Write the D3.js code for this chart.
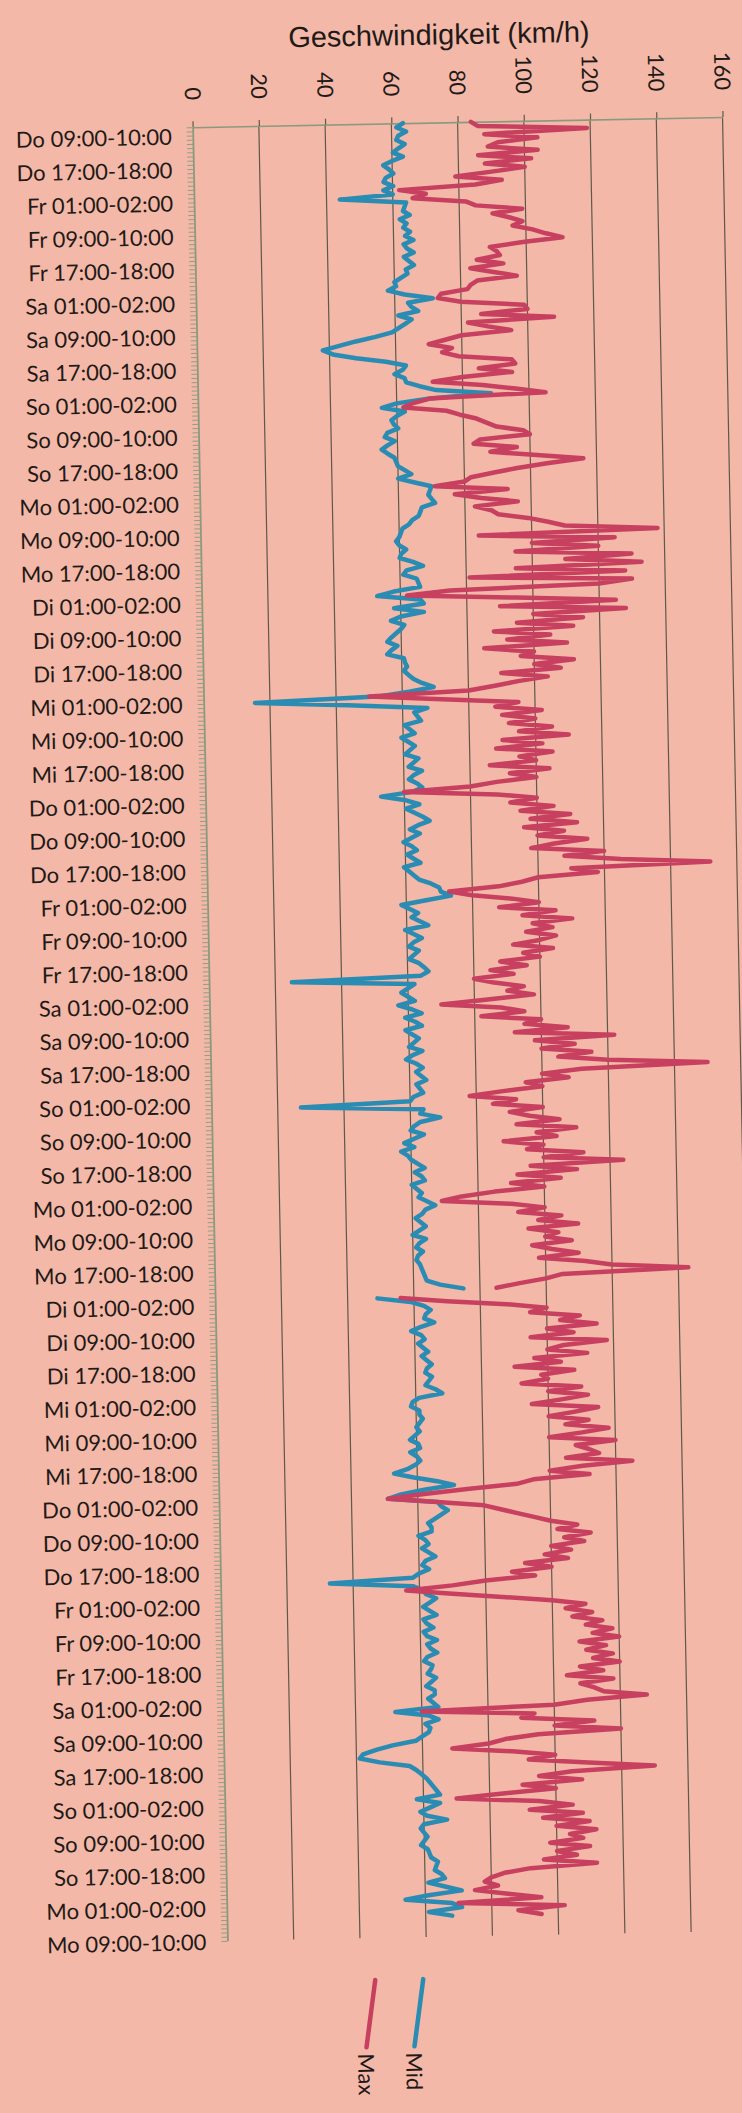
<!DOCTYPE html>
<html>
<head>
<meta charset="utf-8">
<script src="https://cdn.jsdelivr.net/npm/d3@7"></script>
<style>
html, body { margin: 0; padding: 0; background: #f3b8a8; }
svg { display: block; }
</style>
</head>
<body>
<div id="cont"></div>
<script>
// Data //

var tickLabels = [
  "Do 09:00-10:00", "Do 17:00-18:00", "Fr 01:00-02:00", "Fr 09:00-10:00", "Fr 17:00-18:00",
  "Sa 01:00-02:00", "Sa 09:00-10:00", "Sa 17:00-18:00", "So 01:00-02:00", "So 09:00-10:00",
  "So 17:00-18:00", "Mo 01:00-02:00", "Mo 09:00-10:00", "Mo 17:00-18:00", "Di 01:00-02:00",
  "Di 09:00-10:00", "Di 17:00-18:00", "Mi 01:00-02:00", "Mi 09:00-10:00", "Mi 17:00-18:00",
  "Do 01:00-02:00", "Do 09:00-10:00", "Do 17:00-18:00", "Fr 01:00-02:00", "Fr 09:00-10:00",
  "Fr 17:00-18:00", "Sa 01:00-02:00", "Sa 09:00-10:00", "Sa 17:00-18:00", "So 01:00-02:00",
  "So 09:00-10:00", "So 17:00-18:00", "Mo 01:00-02:00", "Mo 09:00-10:00", "Mo 17:00-18:00",
  "Di 01:00-02:00", "Di 09:00-10:00", "Di 17:00-18:00", "Mi 01:00-02:00", "Mi 09:00-10:00",
  "Mi 17:00-18:00", "Do 01:00-02:00", "Do 09:00-10:00", "Do 17:00-18:00", "Fr 01:00-02:00",
  "Fr 09:00-10:00", "Fr 17:00-18:00", "Sa 01:00-02:00", "Sa 09:00-10:00", "Sa 17:00-18:00",
  "So 01:00-02:00", "So 09:00-10:00", "So 17:00-18:00", "Mo 01:00-02:00", "Mo 09:00-10:00"
];
var labelEvery = 8;      // one label every 8 hourly slots
var labelShift = 2.3;    // first label sits a bit below the first slot
var slotCount = 434;

var speedTicks = [0, 20, 40, 60, 80, 100, 120, 140, 160];

// hourly Mid speed (km/h)
var mid = [
  63.5, 61.5, 64.4, 62, 61.4, 63.9, 62, 60.3,
  63.3, 60, 57.3, 59, 60.3, 58, 57.3, 60.2,
  57.2, 60, 44, 64, 63.5, 63, 65, 62,
  64, 63, 65, 63.5, 66, 63, 64, 66,
  63, 64.5, 66, 63.5, 64, 62, 60, 60.5,
  58, 63, 71.5, 64, 65, 67, 61, 65,
  63, 61, 59, 54, 48, 43, 38, 41,
  48, 57, 63, 62, 59.5, 62.5, 63, 67,
  72, 88.5, 70, 60, 55.5, 62.4, 60, 58.3,
  59, 60.3, 57, 56.2, 59.2, 57, 55.2, 57,
  59, 59.5, 60, 62, 64, 60, 65, 70,
  69.5, 69, 70, 71, 67, 66.5, 66, 64,
  63, 61, 60.5, 60, 59, 60, 62, 60.5,
  60, 64, 67, 62, 61, 65, 65.5, 66,
  58, 53, 66, 67, 58, 67, 60, 57,
  61, 60, 58.5, 57, 55.8, 58.8, 57, 55.7,
  60.7, 61, 61.6, 60.6, 62, 63.5, 66, 69.5,
  62.5, 53.5, 15.5, 43.5, 67.5, 63.5, 64.5, 65.5,
  60.5, 62, 63.5, 59.5, 61.5, 63.5, 62, 60.5,
  64.5, 63, 61.5, 65.5, 63, 61.5, 64, 65.5,
  62.5, 53, 60.5, 64.5, 60.5, 63, 65.5, 67.5,
  64, 61.5, 64.5, 62, 59.5, 62, 63.5, 60.5,
  62.5, 64.5, 59.5, 61, 62.5, 64, 67.5, 70,
  70.5, 73.5, 66, 58.5, 61, 63.5, 61.5, 64,
  66.5, 59.5, 62, 64.5, 62, 60.5, 63.5, 62,
  60.5, 63.5, 65, 66.3, 64, 25, 62, 60,
  58, 60, 62, 57, 61, 64, 59, 62,
  64, 59, 61, 63, 61.5, 60, 64, 61,
  59, 62, 64, 62, 63.5, 65, 62, 63,
  64, 61, 60, 27, 64, 63, 69, 63,
  61, 60, 64, 61, 58, 61, 57, 59,
  60, 62, 64, 61, 63, 64, 60, 61.5,
  63, 62, 64.5, 67, 64, 63, 61, 62.5,
  64, 62, 60, 64, 62, 61, 63, 61.5,
  61, 62, 62.5, 63, 63.5, 64, 68, 75,
  null, 49, 59, 63, 65, 63.5, 63, 66,
  62, 59, 62, 63, 61, 62.5, 64, 62,
  63.5, 65, 63.5, 63, 65, 64, 63, 66,
  68, 61, 59, 58.5, 61, 61, 62, 61,
  60, 61, 59.5, 58, 60.5, 61, 58, 60,
  61, 59.5, 57, 53, 59, 66, 71, 62,
  55, 51, 66, 67, 69, 67, 65, 63,
  64, 64, 60, 62, 63, 61, 63, 65,
  62, 61, 63, 60, 58, 33, 58, 61,
  62, 65, 63, 61, 63, 65, 61, 62,
  64, 61, 62, 65, 62, 63, 65, 62,
  61, 63.5, 63, 62, 64.5, 63, 61.5, 64,
  64, 62, 63.5, 65, 52, 62, 65, 61,
  62.5, 62, 60, 58, 51, 46, 42, 41,
  47, 56, 58, 59.5, 61, 62, 63, 64,
  65, 58, 65, 62, 59, 61, 67, 60,
  59, 60, 61, 60, 59, 61, 61.5, 62,
  64, 63.5, 63, 65, 66, 61, 66, 71,
  61, 54, 68, 71, 61, 68
];

// hourly Max speed (km/h)
var max = [
  84, 86, 119, 88, 104, 92, 89, 104,
  86, 102, 88, 100, 90, 79, 93, 85,
  62, 70, 66, 82, 85, 99, 90, 95,
  99, 96, 102, 106, 111, 99, 89, 91,
  92, 85, 93, 83, 90, 97, 85, 83,
  82, 74, 73, 80, 99, 100, 86, 108,
  82, 88, 95, 80, 75, 70, 77, 74,
  79, 95, 96, 85, 95, 80, 71, 86,
  96, 105, 70, 65, 62, 75, 79, 84,
  87, 90, 98, 100, 85, 83, 96, 88,
  102, 116, 105, 96, 89, 82, 80, 71,
  93, 77, 85, 96, 83, 88, 90, 99,
  105, 110, 138, 84, 125, 100, 120, 95,
  130, 110, 133, 95, 128, 81, 130, 120,
  75, 62, 95, 125, 90, 128, 100, 115,
  95, 112, 88, 105, 92, 110, 85, 100,
  96, 112, 100, 108, 90, 104, 95, 88,
  80, 50, 72, 95, 88, 102, 90, 100,
  92, 105, 95, 110, 90, 102, 88, 105,
  95, 100, 86, 104, 92, 100, 88, 80,
  60, 88, 100, 92, 105, 95, 110, 98,
  112, 96, 108, 100, 115, 105, 98, 120,
  108, 125, 152, 110, 118, 100, 95, 88,
  73, 80, 92, 100, 88, 105, 95, 110,
  98, 104, 96, 105, 100, 92, 104, 95,
  100, 88, 96, 85, 92, 80, 86, 95,
  90, 98, 84, 70, 88, 95, 82, 100,
  95, 108, 92, 122, 98, 110, 100, 115,
  105, 120, 150, 112, 100, 108, 95, 100,
  88, 78, 92, 85, 100, 90, 96, 105,
  92, 110, 98, 104, 88, 100, 95, 112,
  100, 124, 96, 110, 92, 105, 90, 100,
  85, 75, 69, 90, 100, 92, 105, 98,
  110, 95, 104, 100, 108, 96, 102, 110,
  98, 112, 120, 143, 105, 100, 92, 85,
  null, 56, 70, 88, 100, 95, 110, 104,
  115, 100, 108, 95, 118, 105, 100, 112,
  96, 104, 90, 108, 98, 100, 92, 110,
  100, 112, 104, 95, 115, 108, 100, 112,
  105, 118, 110, 100, 120, 108, 112, 115,
  105, 125, 110, 100, 112, 95, 90, 75,
  62, 51, 66, 80, 85, 90, 95, 100,
  108, 102, 112, 104, 110, 100, 106, 98,
  105, 92, 100, 88, 95, 80, 70, 56,
  70, 85, 100, 110, 104, 112, 106, 115,
  110, 118, 112, 120, 108, 116, 110, 118,
  112, 120, 108, 115, 104, 118, 108, 112,
  115, 128, 110, 100, 60, 94, 90, 112,
  100, 120, 95, 85, 80, 69, 88, 100,
  92, 110, 130, 105, 95, 108, 90, 100,
  84, 70, 95, 105, 92, 108, 96, 110,
  100, 112, 104, 108, 98, 110, 100, 106,
  96, 112, 92, 84, 80, 78, 82, 75,
  85, 95, 70, 102, 88, 95
];

var seriesNames = ["Max", "Mid"];

// Styles //

var bg = "#f3b8a8";
var gridCol = "#5e594a";
var axisCol = "#8b9a7e";
var textCol = "#1f1a17";
var maxCol = "#c7405f";
var midCol = "#2a8cb3";
var labelFont = "Lato, 'Open Sans', sans-serif";

// SVG Stuff //

var svg = d3.select("#cont").append("svg").attr("width", 742).attr("height", 2113);
svg.append("rect").attr("width", 742).attr("height", 2113).attr("fill", bg);

// the photographed chart is tilted a little
var chart = svg.append("g").attr("transform", "rotate(-1.1 420 1030)");

var x = d3.scaleLinear().domain([0, 160]).range([210, 740]);
var y = d3.scaleLinear().domain([0, slotCount]).range([123, 1937]);

// gridlines
chart.append("g").selectAll("line")
  .data(speedTicks.slice(1))
  .join("line")
  .attr("x1", function(d) { return x(d); })
  .attr("x2", function(d) { return x(d); })
  .attr("y1", y(0))
  .attr("y2", y(slotCount))
  .attr("stroke", gridCol)
  .attr("stroke-width", 1.2);

// value axis on top
var topAxis = chart.append("g")
  .attr("transform", "translate(0," + y(0) + ")")
  .call(d3.axisTop(x).tickValues(speedTicks).tickSize(6).tickSizeOuter(0));
topAxis.select(".domain").attr("stroke", axisCol).attr("stroke-width", 1.6);
topAxis.selectAll(".tick line").attr("stroke", gridCol).attr("stroke-width", 1.2);
topAxis.selectAll(".tick text")
  .attr("transform", "rotate(90)")
  .attr("x", -27)
  .attr("y", 0)
  .attr("dy", "0.35em")
  .attr("text-anchor", "end")
  .attr("fill", textCol)
  .style("font-family", labelFont)
  .style("font-size", "22px");

// category axis: one small tick per hour
var hourAxis = chart.append("g")
  .attr("transform", "translate(" + x(0) + ",0)")
  .call(d3.axisLeft(y).tickValues(d3.range(0, slotCount + 1)).tickSize(6).tickSizeOuter(0).tickFormat(""));
hourAxis.select(".domain").attr("stroke", axisCol).attr("stroke-width", 1.8);
hourAxis.selectAll(".tick line").attr("stroke", axisCol).attr("stroke-width", 0.9);

var labelAxis = chart.append("g")
  .attr("transform", "translate(" + x(0) + ",0)")
  .call(d3.axisLeft(y)
    .tickValues(tickLabels.map(function(t, k) { return k * labelEvery + labelShift; }))
    .tickSize(0)
    .tickPadding(21)
    .tickFormat(function(d, k) { return tickLabels[k]; }));
labelAxis.select(".domain").remove();
labelAxis.selectAll("text")
  .attr("fill", textCol)
  .style("font-family", labelFont)
  .style("font-size", "22px");

// title
chart.append("text")
  .attr("x", 458)
  .attr("y", 45)
  .attr("text-anchor", "middle")
  .attr("fill", textCol)
  .style("font-family", "'Liberation Sans', Arial, sans-serif")
  .style("font-size", "29px")
  .text("Geschwindigkeit (km/h)");

// lines
var line = d3.line()
  .defined(function(d) { return d !== null; })
  .x(function(d) { return x(d); })
  .y(function(d, i) { return y(i); });

chart.append("path")
  .datum(mid)
  .attr("d", line)
  .attr("fill", "none")
  .attr("stroke", midCol)
  .attr("stroke-width", 4.5)
  .attr("stroke-linejoin", "round")
  .attr("stroke-linecap", "round");

chart.append("path")
  .datum(max)
  .attr("d", line)
  .attr("fill", "none")
  .attr("stroke", maxCol)
  .attr("stroke-width", 4.5)
  .attr("stroke-linejoin", "round")
  .attr("stroke-linecap", "round");

// legend
var legendX = [352, 400];
var legendCol = [maxCol, midCol];
var legend = chart.append("g").selectAll("g")
  .data(seriesNames)
  .join("g")
  .attr("transform", function(d, i) { return "translate(" + legendX[i] + ",0)"; });

legend.append("line")
  .attr("x1", 5).attr("y1", 1979)
  .attr("x2", -5).attr("y2", 2046)
  .attr("stroke", function(d, i) { return legendCol[i]; })
  .attr("stroke-width", 4.5)
  .attr("stroke-linecap", "round");

legend.append("text")
  .attr("transform", "translate(-6,2052) rotate(90)")
  .attr("dy", "0.35em")
  .attr("fill", textCol)
  .style("font-family", labelFont)
  .style("font-size", "22px")
  .text(function(d) { return d; });
</script>
</body>
</html>
